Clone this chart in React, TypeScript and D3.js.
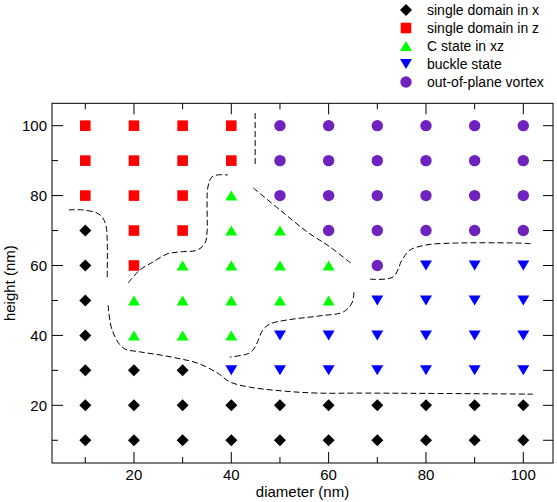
import React from "react";
import * as d3 from "d3";

const diameters = [10, 20, 30, 40, 50, 60, 70, 80, 90, 100];
const heights = [100, 90, 80, 70, 60, 50, 40, 30, 20, 10];
// X = single domain in x, Z = single domain in z, C = C state, B = buckle, V = vortex
const stateRows = [
  "ZZZZVVVVVV",
  "ZZZZVVVVVV",
  "ZZZCVVVVVV",
  "XZZCCVVVVV",
  "XZCCCCVBBB",
  "XCCCCCBBBB",
  "XCCCBBBBBB",
  "XXXBBBBBBB",
  "XXXXXXXXXX",
  "XXXXXXXXXX",
];

const legendKeys = ["X", "Z", "C", "B", "V"];
const legendLabels = [
  "single domain in x",
  "single domain in z",
  "C state in xz",
  "buckle state",
  "out-of-plane vortex",
];
const colors: Record<string, string> = {
  X: "#000000",
  Z: "#ff0000",
  C: "#00ff00",
  B: "#0000ff",
  V: "#7022bf",
};

const xTicksMajor = [20, 40, 60, 80, 100];
const xTicksMinor = [10, 30, 50, 70, 90];
const yTicksMajor = [20, 40, 60, 80, 100];
const yTicksMinor = [10, 30, 50, 70, 90];

// phase boundaries (diameter, height)
const boundaryA: [number, number][] = [
  [6.6, 75.9], [9.5, 75.9], [12.4, 75.0], [13.6, 73.6], [14.3, 71.0], [14.5, 67.3], [14.5, 55.9],
];
const boundaryB: [number, number][] = [
  [14.7, 48.7], [15.5, 41.6], [17.8, 36.4], [21.2, 35.3], [25.4, 34.4], [29.5, 33.3], [33.0, 32.1],
  [37.1, 29.3], [39.7, 26.7], [43.8, 25.2], [50.6, 24.1], [57.6, 23.5], [67.9, 23.5], [102.0, 23.2],
];
const boundaryC: [number, number][] = [
  [18.8, 55.0], [21.2, 58.7], [23.9, 61.0], [26.8, 63.3], [29.5, 63.9], [33.0, 64.4], [34.6, 66.4],
  [35.0, 69.3], [35.2, 82.5], [36.0, 85.3], [37.1, 85.9], [39.3, 85.9],
];
const boundaryD: [number, number][] = [[44.9, 103.6], [44.9, 88.2]];
const boundaryE: [number, number][] = [
  [44.5, 82.2], [50.0, 75.9], [55.6, 69.6], [60.3, 65.3], [64.8, 60.4],
];
const boundaryF: [number, number][] = [
  [65.2, 52.4], [64.8, 49.3], [63.0, 46.7], [58.2, 45.6], [51.4, 44.4], [48.0, 43.3], [46.5, 41.6],
  [44.9, 36.7], [43.8, 35.0], [39.7, 33.8],
];
const boundaryG: [number, number][] = [
  [68.5, 56.1], [73.2, 56.7], [75.1, 61.6], [76.7, 64.4], [80.2, 65.9], [85.6, 66.4], [99.3, 66.4], [101.8, 66.2],
];
const boundaries = [boundaryA, boundaryB, boundaryC, boundaryD, boundaryE, boundaryF, boundaryG];

const W = 557;
const H = 502;
const left = 52, right = 553, top = 103.3, bottom = 463;
const FONT = "'Liberation Sans', Arial, Helvetica, sans-serif";

function markerPath(k: string): string {
  switch (k) {
    case "X": {
      const r = 6;
      return `M0,${-r}L${r},0L0,${r}L${-r},0Z`;
    }
    case "Z": {
      const s = 5.3;
      return `M${-s},${-s}H${s}V${s}H${-s}Z`;
    }
    case "C":
      return `M0,-5L6,5L-6,5Z`;
    case "B":
      return `M-6,-5L6,-5L0,5Z`;
    case "V":
    default:
      return d3.symbol(d3.symbolCircle, Math.PI * 5.7 * 5.7)() || "";
  }
}

export default function App() {
  const x = d3.scaleLinear().domain([3.16, 106.1]).range([left, right]);
  const y = d3.scaleLinear().domain([3.5, 106.4]).range([bottom, top]);
  const line = d3
    .line<[number, number]>()
    .x((d) => x(d[0]))
    .y((d) => y(d[1]))
    .curve(d3.curveCatmullRom.alpha(0.5));

  const points: { d: number; h: number; k: string }[] = [];
  heights.forEach((h, i) => {
    diameters.forEach((d, j) => {
      points.push({ d, h, k: stateRows[i][j] });
    });
  });

  return (
    <svg
      width={W}
      height={H}
      style={{ position: "absolute", left: 0, top: 0, background: "#fff" }}
      fontFamily={FONT}
    >
      <rect x={0} y={0} width={W} height={H} fill="#fff" />
      {/* frame */}
      <rect x={left} y={top} width={right - left} height={bottom - top} fill="none" stroke="#000" strokeWidth={1} />
      {/* x ticks */}
      {xTicksMajor.map((t) => (
        <g key={"xM" + t}>
          <line x1={x(t)} x2={x(t)} y1={bottom} y2={bottom - 11} stroke="#000" />
          <line x1={x(t)} x2={x(t)} y1={top} y2={top + 11} stroke="#000" />
          <text x={x(t)} y={480} fontSize={15} textAnchor="middle">{t}</text>
        </g>
      ))}
      {xTicksMinor.map((t) => (
        <g key={"xm" + t}>
          <line x1={x(t)} x2={x(t)} y1={bottom} y2={bottom - 6} stroke="#000" />
          <line x1={x(t)} x2={x(t)} y1={top} y2={top + 6} stroke="#000" />
        </g>
      ))}
      {/* y ticks */}
      {yTicksMajor.map((t) => (
        <g key={"yM" + t}>
          <line x1={left} x2={left + 11} y1={y(t)} y2={y(t)} stroke="#000" />
          <line x1={right} x2={right - 10} y1={y(t)} y2={y(t)} stroke="#000" />
          <text x={47} y={y(t) + 5.5} fontSize={15} textAnchor="end">{t}</text>
        </g>
      ))}
      {yTicksMinor.map((t) => (
        <g key={"ym" + t}>
          <line x1={left} x2={left + 6} y1={y(t)} y2={y(t)} stroke="#000" />
          <line x1={right} x2={right - 10} y1={y(t)} y2={y(t)} stroke="#000" />
        </g>
      ))}
      {/* axis titles */}
      <text x={(left + right) / 2} y={497} fontSize={15} textAnchor="middle">diameter (nm)</text>
      <text
        transform={`translate(15,${(top + bottom) / 2}) rotate(-90)`}
        fontSize={15}
        textAnchor="middle"
      >
        height (nm)
      </text>
      {/* boundaries */}
      {boundaries.map((b, i) => (
        <path key={"b" + i} d={line(b) || ""} fill="none" stroke="#000" strokeWidth={1} strokeDasharray="6,3" />
      ))}
      {/* markers */}
      {points.map((p, i) => (
        <path
          key={"p" + i}
          d={markerPath(p.k)}
          transform={`translate(${x(p.d)},${y(p.h)})`}
          fill={colors[p.k]}
        />
      ))}
      {/* legend */}
      {legendKeys.map((k, i) => (
        <g key={"l" + k} transform={`translate(0,${10 + 18 * i})`}>
          <path d={markerPath(k)} transform="translate(406,0)" fill={colors[k]} />
          <text x={427} y={5} fontSize={14}>{legendLabels[i]}</text>
        </g>
      ))}
    </svg>
  );
}
